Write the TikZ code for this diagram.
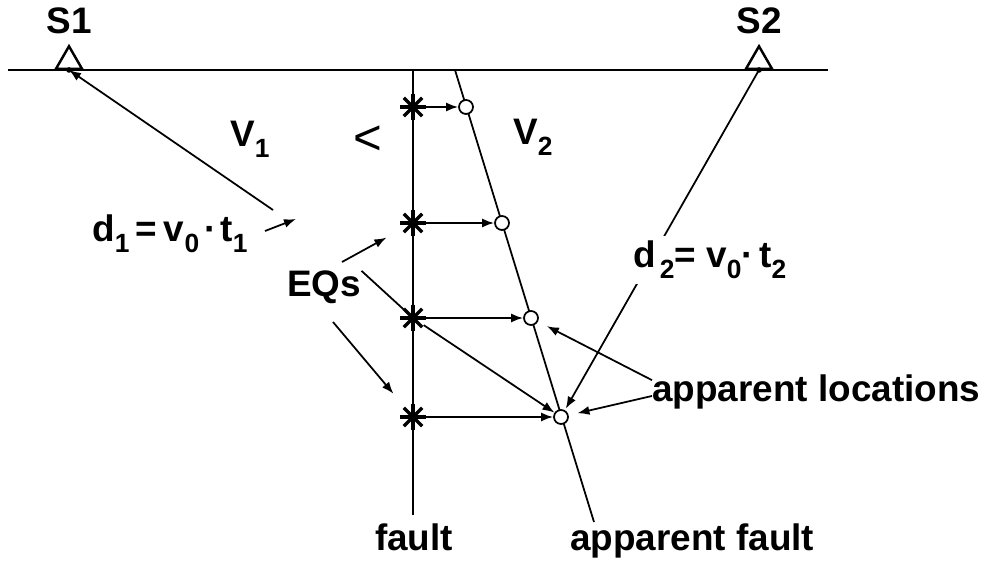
\documentclass[tikz,border=0pt]{standalone}
\usepackage{fontspec}
\setmainfont{Liberation Sans}
\usetikzlibrary{arrows.meta,positioning,shapes.geometric,calc}
\newcommand{\lowsub}[1]{\raisebox{-6pt}{\fontsize{15}{16}\selectfont #1}}
\tikzset{
  lbl/.style={font=\fontsize{21}{24}\selectfont\bfseries,inner sep=0pt},
  heavy/.style={line width=1.7pt},
  ray/.style={line width=1pt},
  arr/.style={ray,-{Latex[length=2.4mm,width=1.8mm]}},
  station/.style={regular polygon,regular polygon sides=3,draw,line width=1.4pt,
                  fill=white,minimum size=6mm,inner sep=0pt},
  apploc/.style={circle,draw,fill=white,line width=1pt,minimum size=2.8mm,
                 inner sep=0pt},
  quake/.style={circle,minimum size=5mm,inner sep=0pt}
}

\begin{document}
\begin{tikzpicture}[x=0.02cm,y=-0.02cm]
    \path[use as bounding box] (0,0) rectangle (987,563);

    % surface, fault and apparent fault
    \coordinate (sw) at (8,70);
    \coordinate (se) at (828,70);
    \coordinate (ftop) at (413,70);
    \coordinate (fbot) at (413,515);
    \coordinate (aftop) at (455,70);
    \coordinate (afbot) at (594,522);
    \draw[heavy] (sw) -- (se);
    \draw[heavy] (ftop) -- (fbot);
    \draw[ray] (aftop) -- (afbot);

    \node[station,anchor=south] (s1) at (69,70) {};
    \node[station,anchor=south] (s2) at (759,70) {};
    \node[lbl,above=2mm of s1] (s1lbl) {S1};
    \node[lbl,above=2mm of s2] (s2lbl) {S2};
    \fill (s1.south) circle (1.6pt);
    \fill (s2.south) circle (1.6pt);

    % true and apparent locations
    \foreach \y/\x [count=\i] in {107/466,223/502,318/531,417/561}{
      \node[quake] (eq\i) at (413,\y) {};
      \node[apploc] (loc\i) at (\x,\y) {};
      \draw[arr] (eq\i) -- (loc\i);
    }

    \node[lbl,anchor=base west] (v1) at (230,147) {V\lowsub{1}};
    \node[lbl,anchor=base west] (v2) at (513,145) {V\lowsub{2}};
    \node[font=\fontsize{28}{30}\selectfont,inner sep=0pt] (lt) at (368,140) {<};

    \node[lbl,anchor=base west] (d1) at (92,242)
      {d\lowsub{1}\hspace{0.15em}=\hspace{0.2em}v\lowsub{0}\hspace{0.15em}·\hspace{0.1em}t\lowsub{1}};
    \coordinate (r1) at (273,210);
    \draw[arr] (r1) -- (s1.south);
    \coordinate (d1a) at (265,231);
    \coordinate (d1b) at (296,219);
    \draw[arr] (d1a) -- (d1b);

    \draw[arr,shorten >=1pt] (s2.south) -- (loc4);
    \node[lbl,anchor=base west,fill=white,inner sep=3pt] (d2) at (628,268)
      {d\hspace{0.1em}\lowsub{2}= v\lowsub{0}·\hspace{0.15em}t\lowsub{2}};

    \node[lbl,anchor=base west] (eqs) at (287,297) {EQs};
    \coordinate (eqa) at (342,262);
    \coordinate (eqc) at (333,322);
    \draw[arr,shorten >=3.5mm] (eqa) -- (eq2);
    \draw[ray] (eqs.north east) -- (eq3);
    \draw[arr,shorten >=3.5mm] (eqc) -- (eq4);
    \draw[arr] (eq3) -- (loc4);

    \node[lbl,anchor=base west] (apl) at (652,402) {apparent locations};
    \draw[arr,shorten >=2mm] ([yshift=7pt]apl.west) -- (loc3);
    \draw[arr,shorten >=1.8mm] ([yshift=-2pt]apl.west) -- (loc4);

    \node[lbl,anchor=base] (flbl) at (414,550) {fault};
    \node[lbl,anchor=base west] (aflbl) at (570,550) {apparent fault};

    % asterisks on the fault
    \foreach \i in {1,...,4}
      \foreach \a in {0,45,90,135}
        \draw[line width=2pt] ($(eq\i)+(\a:2.6mm)$) -- ($(eq\i)+(\a+180:2.6mm)$);
  \end{tikzpicture}
\end{document}
